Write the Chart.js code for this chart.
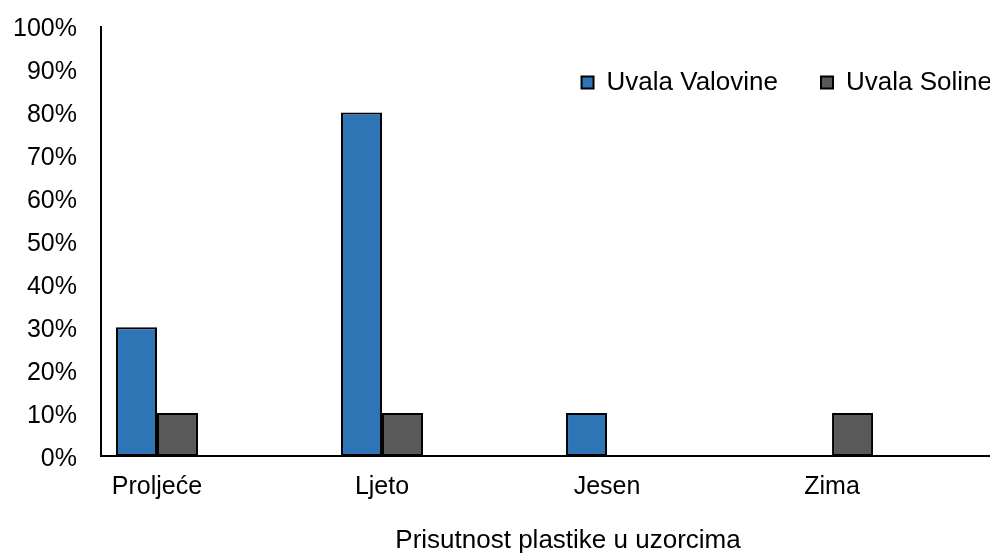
<!DOCTYPE html>
<html>
<head>
<meta charset="utf-8">
<script src="https://cdn.jsdelivr.net/npm/chart.js@4"></script>
<style>
  html, body { margin: 0; padding: 0; background: #fff; overflow: hidden; width: 990px; height: 555px; }
  #wrap { position: relative; width: 1035px; height: 555px; }
</style>
</head>
<body>
<div id="wrap"><canvas id="c"></canvas></div>
<script>
const categories = ['Proljeće', 'Ljeto', 'Jesen', 'Zima'];
const uvalaValovine = [30, 80, 10, 0];
const uvalaSoline = [10, 10, 0, 10];
const seriesNames = ['Uvala Valovine', 'Uvala Soline'];
const yTickValues = [0, 10, 20, 30, 40, 50, 60, 70, 80, 90, 100];
const xTitle = 'Prisutnost plastike u uzorcima';

const FONT = "'Liberation Sans', Arial, sans-serif";

function toPoints(vals) {
  return vals.map((v, i) => ({ x: i, y: v }));
}

// places the library's legend box over the plot area (legend drawn inside it)
const legendInPlot = {
  id: 'legendInPlot',
  afterLayout(chart) {
    const lg = chart.legend;
    if (lg) {
      lg.top = chart.chartArea.top;
      lg.bottom = chart.chartArea.bottom;
    }
  }
};

new Chart(document.getElementById('c'), {
  type: 'bar',
  plugins: [legendInPlot],
  data: {
    datasets: [
      {
        label: seriesNames[0],
        data: toPoints(uvalaValovine),
        backgroundColor: '#2E75B6',
        borderColor: '#000000',
        borderWidth: 2,
        borderSkipped: false
      },
      {
        label: seriesNames[1],
        data: toPoints(uvalaSoline),
        backgroundColor: '#595959',
        borderColor: '#000000',
        borderWidth: 2,
        borderSkipped: false
      }
    ]
  },
  options: {
    responsive: true,
    maintainAspectRatio: false,
    animation: false,
    categoryPercentage: 0.3644,
    barPercentage: 1,
    layout: { padding: { top: 0, left: 13, right: 0, bottom: 0 } },
    plugins: {
      tooltip: { enabled: false },
      legend: {
        position: 'top',
        align: 'end',
        maxHeight: 10,
        labels: {
          boxWidth: 12,
          boxHeight: 12,
          padding: 43,
          color: '#000',
          font: { family: FONT, size: 26 }
        }
      }
    },
    scales: {
      x: {
        type: 'linear',
        offset: false,
        min: -0.2489,
        max: 3.902,
        grid: { display: false, drawTicks: false, offset: false },
        border: { display: true, color: '#000', width: 2 },
        afterBuildTicks: (scale) => {
          scale.ticks = categories.map((c, i) => ({ value: i }));
        },
        ticks: {
          padding: 16,
          autoSkip: false,
          maxRotation: 0,
          color: '#000',
          font: { family: FONT, size: 25 },
          callback: (value) => categories[value] !== undefined ? categories[value] : ''
        },
        title: {
          display: true,
          text: xTitle,
          color: '#000',
          font: { family: FONT, size: 26, lineHeight: 1.1 },
          padding: { top: 8.4, bottom: 0 }
        }
      },
      y: {
        min: 0,
        max: 100,
        grid: { display: false, drawTicks: false },
        border: { display: true, color: '#000', width: 2 },
        afterBuildTicks: (scale) => {
          scale.ticks = yTickValues.map(v => ({ value: v }));
        },
        afterFit: (scale) => {
          scale.width = 88;
          scale.paddingTop = 26.5;
          scale.paddingBottom = 0;
        },
        ticks: {
          padding: 24,
          labelOffset: 3,
          color: '#000',
          font: { family: FONT, size: 25 },
          callback: (v) => v + '%'
        }
      }
    }
  }
});
</script>
</body>
</html>
